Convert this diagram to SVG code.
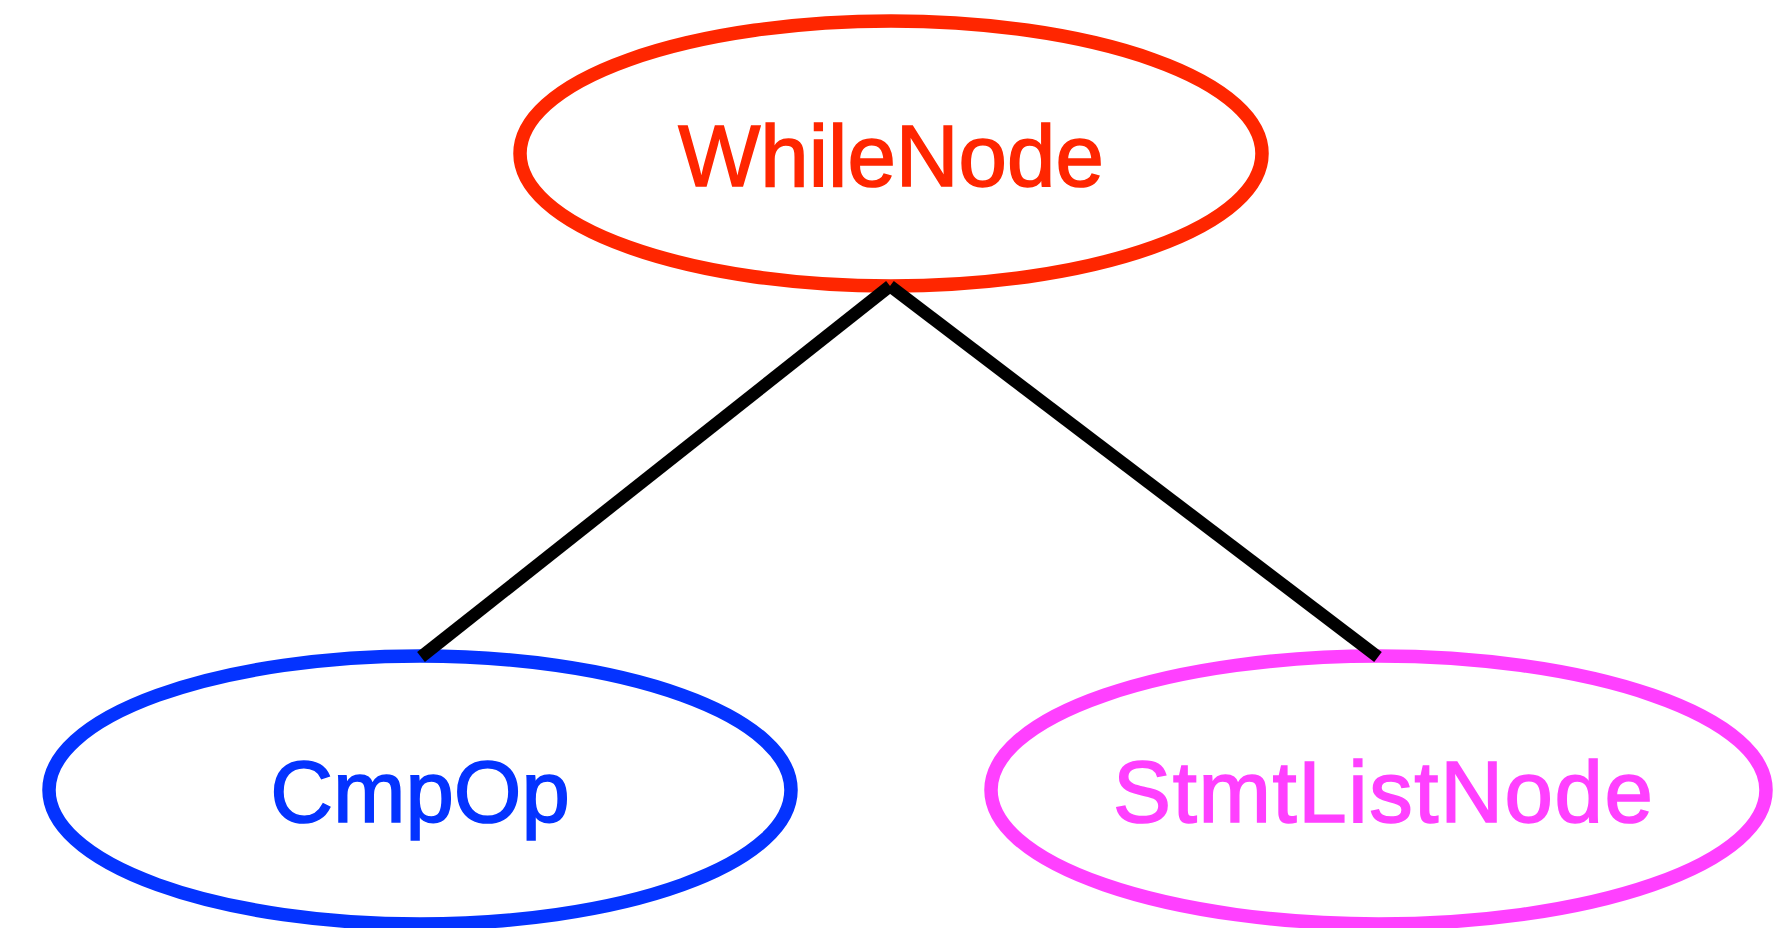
<svg xmlns="http://www.w3.org/2000/svg" width="1773" height="928" viewBox="0 0 1773 928">
<style>
.node ellipse { fill: #ffffff; stroke-width: 13.5; }
.node text { font-family: "Liberation Sans", Arial, Helvetica, sans-serif; font-size: 87px; text-anchor: middle; stroke-width: 1.6; }
.edge line { stroke: #000000; stroke-width: 12.5; stroke-linecap: butt; }
</style>
<rect x="0" y="0" width="1773" height="928" fill="#ffffff"/>
<g id="node-whilenode" class="node">
<ellipse cx="891" cy="153.5" rx="371" ry="132.5" stroke="#ff2600"/>
<text x="891" y="186" fill="#ff2600" stroke="#ff2600">WhileNode</text>
</g>
<g id="node-cmpop" class="node">
<ellipse cx="420" cy="790" rx="371" ry="134" stroke="#0433ff"/>
<text x="420" y="822" fill="#0433ff" stroke="#0433ff">CmpOp</text>
</g>
<g id="node-stmtlistnode" class="node">
<ellipse cx="1378.5" cy="790" rx="387.5" ry="134" stroke="#ff40ff"/>
<text x="1383" y="822" fill="#ff40ff" stroke="#ff40ff" textLength="540" lengthAdjust="spacing">StmtListNode</text>
</g>
<g id="connectors" class="edge">
<line x1="890" y1="286" x2="421" y2="657"/>
<line x1="890" y1="286" x2="1378" y2="657"/>
</g>
</svg>
